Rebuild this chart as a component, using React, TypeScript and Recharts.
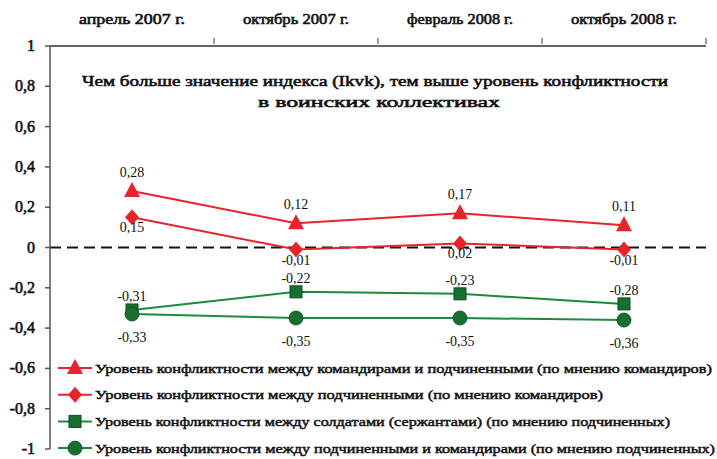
import React from "react";
import { LineChart, Line, XAxis, YAxis, ReferenceLine, LabelList } from "recharts";

const periods = ["апрель 2007 г.", "октябрь 2007 г.", "февраль 2008 г.", "октябрь 2008 г."];
const cmdSubordinates = [0.28, 0.12, 0.17, 0.11];
const betweenSubordinates = [0.15, -0.01, 0.02, -0.01];
const soldiersSergeants = [-0.31, -0.22, -0.23, -0.28];
const subordinatesCmd = [-0.33, -0.35, -0.35, -0.36];
const yTicks = [-1, -0.8, -0.6, -0.4, -0.2, 0, 0.2, 0.4, 0.6, 0.8, 1];

const titleLines = [
  "Чем больше значение индекса (Ikvk), тем выше уровень конфликтности",
  "в воинских коллективах",
];

const RED = "#e8232b";
const GREEN = "#1f8a3e";
const DARK_GREEN = "#17702f";

const series = [
  { key: "s1", name: "Уровень конфликтности между командирами и подчиненными (по мнению командиров)", color: RED, shape: "triangle", dy: -14, len: 617 },
  { key: "s2", name: "Уровень конфликтности между подчиненными (по мнению командиров)", color: RED, shape: "diamond", dy: 15, len: 508 },
  { key: "s3", name: "Уровень конфликтности между солдатами (сержантами) (по мнению подчиненных)", color: GREEN, shape: "square", dy: -9, len: 575 },
  { key: "s4", name: "Уровень конфликтности между подчиненными и командирами  (по мнению подчиненных)", color: GREEN, shape: "circle", dy: 28, len: 620 },
];

const data = periods.map((p, i) => ({
  period: p,
  s1: cmdSubordinates[i],
  s2: betweenSubordinates[i],
  s3: soldiersSergeants[i],
  s4: subordinatesCmd[i],
}));

const W = 717;
const H = 459;
const LEFT = 50;
const RIGHT = 706;
const HALF_BAND = (RIGHT - LEFT) / periods.length / 2;
const SERIF = "Liberation Serif, Times New Roman, serif";
// bold serif face is not available, so thicken the regular one with a thin stroke
const BOLD = { fontFamily: SERIF, stroke: "#111", strokeWidth: 0.6, paintOrder: "stroke" } as const;

const fmt = (v: number) => String(v).replace(".", ",");

function Marker({ shape, cx, cy, color }: { shape: string; cx: number; cy: number; color: string }) {
  if (shape === "triangle")
    return <polygon points={`${cx},${cy - 9} ${cx + 8},${cy + 6} ${cx - 8},${cy + 6}`} fill={color} />;
  if (shape === "diamond")
    return <polygon points={`${cx},${cy - 8} ${cx + 7},${cy} ${cx},${cy + 8} ${cx - 7},${cy}`} fill={color} />;
  if (shape === "square")
    return <rect x={cx - 6} y={cy - 6} width={12} height={12} fill={DARK_GREEN} stroke="#0d4a1c" strokeWidth={1} />;
  return <circle cx={cx} cy={cy} r={7} fill={DARK_GREEN} stroke="#0d4a1c" strokeWidth={0.8} />;
}

const TopTick = (props: any) => {
  const { x, y, payload } = props;
  return (
    <g>
      <text x={x} y={y - 14} textAnchor="middle" style={BOLD} fontSize={15} fill="#111" textLength={106} lengthAdjust="spacingAndGlyphs">
        {payload.value}
      </text>
      <line x1={x + HALF_BAND} x2={x + HALF_BAND} y1={y} y2={y + 6} stroke="#333" strokeWidth={1} />
    </g>
  );
};

const YTick = (props: any) => {
  const { x, y, payload } = props;
  return (
    <text x={x} y={y + 5} textAnchor="end" style={BOLD} fontSize={16} fill="#111">
      {fmt(payload.value)}
    </text>
  );
};

const makeLabel = (dy: number) => (props: any) => {
  const { x, y, value } = props;
  return (
    <text x={x} y={y + dy} textAnchor="middle" style={{ fontFamily: SERIF }} fontSize={14} fill="#111">
      {fmt(value)}
    </text>
  );
};

export default function App() {
  return (
    <div style={{ position: "absolute", left: 0, top: 0, width: W, height: H, background: "#fff", fontFamily: SERIF }}>
      <LineChart width={W} height={H} data={data} margin={{ top: 6, right: W - RIGHT, bottom: 10, left: 0 }}>
        <XAxis
          dataKey="period"
          orientation="top"
          height={40}
          padding={{ left: HALF_BAND, right: HALF_BAND }}
          tickLine={false}
          tick={<TopTick />}
          stroke="#333"
          strokeWidth={1.5}
          interval={0}
        />
        <YAxis
          domain={[-1, 1]}
          ticks={yTicks}
          width={LEFT}
          tickSize={5}
          tickMargin={10}
          stroke="#555"
          strokeWidth={1.5}
          interval={0}
          tick={<YTick />}
        />
        <ReferenceLine y={0} stroke="#111" strokeWidth={2} strokeDasharray="11 6" />
        {series.map((s) => (
          <Line
            key={s.key}
            dataKey={s.key}
            stroke={s.color}
            strokeWidth={2}
            isAnimationActive={false}
            dot={(p: any) => <Marker key={`${s.key}-${p.index}`} shape={s.shape} cx={p.cx} cy={p.cy} color={s.color} />}
            activeDot={false}
          >
            <LabelList dataKey={s.key} content={makeLabel(s.dy)} />
          </Line>
        ))}
      </LineChart>
      <svg width={W} height={H} style={{ position: "absolute", left: 0, top: 0, pointerEvents: "none" }}>
        <text x={375} y={86} textAnchor="middle" style={BOLD} fontSize={15} fill="#111" textLength={586} lengthAdjust="spacingAndGlyphs">
          {titleLines[0]}
        </text>
        <text x={379} y={107} textAnchor="middle" style={BOLD} fontSize={15} fill="#111" textLength={242} lengthAdjust="spacingAndGlyphs">
          {titleLines[1]}
        </text>
        {series.map((s, i) => {
          const cy = 368 + i * 26.7;
          return (
            <g key={s.key}>
              <line x1={58} x2={92} y1={cy} y2={cy} stroke={s.color} strokeWidth={2} />
              <Marker shape={s.shape} cx={75} cy={cy} color={s.color} />
              <text x={95} y={cy + 4.5} style={{ ...BOLD, strokeWidth: 0.5 }} fontSize={13.5} fill="#111" textLength={s.len} lengthAdjust="spacingAndGlyphs">
                {s.name}
              </text>
            </g>
          );
        })}
      </svg>
    </div>
  );
}
